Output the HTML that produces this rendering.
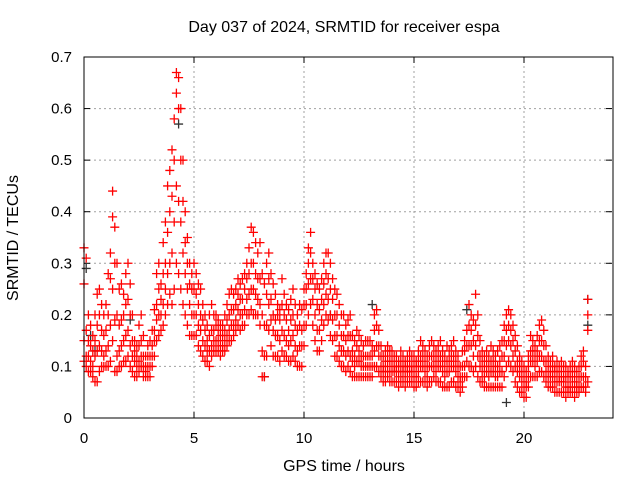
<!DOCTYPE html>
<html><head><meta charset="utf-8"><style>
body{margin:0;background:#fff}
svg{display:block;font-family:"Liberation Sans",sans-serif}
</style></head><body>
<svg id="chart" width="640" height="480">
<rect width="640" height="480" fill="#fff"/>
<text x="344" y="32" text-anchor="middle" font-size="16">Day 037 of 2024, SRMTID for receiver espa</text>
<text x="344" y="471" text-anchor="middle" font-size="16">GPS time / hours</text>
<text transform="translate(18,238) rotate(-90)" text-anchor="middle" font-size="16">SRMTID / TECUs</text>
<g id="grid"></g>
<g id="ticks"></g>
<g id="marks"></g>
<rect x="84" y="57" width="529" height="361" fill="none" stroke="#000" stroke-width="1"/>
</svg>
<script>
const xTicks=[0,5,10,15,20];
const yTicks=[0,0.1,0.2,0.3,0.4,0.5,0.6,0.7];
const yTickLabels=["0","0.1","0.2","0.3","0.4","0.5","0.6","0.7"];
const tStart=0, tStep=0.1;
const hi=[.33,.31,.2,.18,.16,.2,.24,.25,.22,.2,
.22,.28,.32,.44,.37,.3,.25,.26,.24,.28,
.3,.26,.2,.15,.14,.18,.2,.16,.12,.14,
.15,.17,.21,.28,.3,.26,.34,.38,.45,.48,
.52,.58,.67,.66,.6,.5,.4,.35,.3,.28,
.3,.28,.26,.25,.22,.2,.18,.2,.22,.2,
.2,.19,.18,.18,.2,.22,.24,.25,.24,.25,
.27,.26,.27,.28,.3,.33,.37,.36,.34,.32,
.34,.28,.26,.3,.32,.28,.26,.24,.22,.21,
.27,.24,.22,.21,.23,.25,.22,.2,.22,.21,
.25,.28,.33,.36,.3,.28,.26,.25,.27,.3,
.32,.32,.3,.27,.25,.24,.22,.2,.2,.18,
.19,.2,.16,.15,.17,.16,.15,.14,.15,.15,
.15,.14,.2,.21,.17,.14,.12,.13,.14,.13,
.13,.12,.12,.11,.13,.12,.11,.12,.13,.12,
.12,.11,.13,.15,.14,.13,.12,.14,.15,.14,
.13,.14,.15,.13,.12,.14,.13,.14,.15,.13,
.12,.1,.13,.15,.17,.22,.2,.19,.24,.2,
.15,.13,.12,.13,.12,.14,.13,.12,.13,.14,
.15,.18,.2,.21,.2,.18,.16,.14,.12,.11,
.1,.09,.12,.16,.15,.14,.16,.18,.19,.17,
.14,.12,.11,.12,.1,.11,.1,.11,.1,.1,
.09,.1,.11,.1,.09,.1,.12,.13,.1,.23];
const m2=[.26,.17,.15,.14,.13,.15,.18,.2,.17,.16,
.17,.2,.27,.39,.3,.2,.18,.19,.2,.22,
.23,.2,.15,.13,.12,.14,.15,.12,.1,.12,
.12,.14,.17,.22,.25,.23,.28,.3,.36,.4,
.43,.5,.63,.6,.5,.42,.34,.3,.26,.25,
.25,.24,.22,.2,.19,.17,.15,.16,.17,.17,
.18,.17,.16,.16,.17,.19,.2,.21,.21,.22,
.24,.23,.23,.25,.27,.28,.3,.3,.28,.27,
.27,.2,.18,.24,.27,.23,.2,.19,.2,.19,
.22,.2,.19,.17,.19,.2,.18,.17,.18,.17,
.22,.25,.3,.32,.27,.25,.22,.21,.23,.26,
.28,.27,.25,.23,.2,.2,.18,.16,.16,.15,
.16,.16,.13,.12,.14,.13,.12,.12,.12,.12,
.12,.12,.17,.18,.14,.12,.1,.11,.12,.11,
.11,.1,.1,.1,.11,.1,.1,.1,.11,.1,
.1,.1,.11,.12,.12,.11,.1,.12,.12,.12,
.11,.12,.12,.11,.1,.11,.11,.12,.12,.11,
.1,.08,.1,.13,.14,.18,.17,.15,.18,.16,
.12,.11,.1,.11,.1,.11,.11,.1,.1,.11,
.12,.15,.17,.18,.17,.15,.13,.11,.1,.09,
.08,.07,.1,.13,.13,.12,.13,.15,.15,.14,
.11,.1,.09,.1,.09,.09,.08,.09,.08,.08,
.08,.08,.09,.08,.07,.08,.1,.11,.08,.2];
const m1=[.15,.12,.12,.11,.1,.12,.13,.14,.13,.12,
.13,.14,.18,.25,.19,.12,.13,.14,.15,.16,
.17,.14,.12,.11,.1,.11,.12,.1,.09,.1,
.1,.12,.15,.19,.2,.2,.22,.25,.28,.3,
.32,.38,.45,.42,.38,.32,.28,.25,.22,.2,
.2,.2,.18,.17,.15,.14,.13,.13,.14,.15,
.15,.15,.14,.14,.15,.16,.17,.18,.18,.19,
.21,.2,.2,.21,.23,.24,.25,.25,.24,.23,
.22,.13,.12,.18,.22,.19,.17,.16,.16,.15,
.17,.16,.15,.14,.15,.16,.14,.13,.14,.14,
.18,.22,.26,.27,.23,.2,.17,.17,.19,.22,
.24,.23,.2,.19,.16,.16,.14,.13,.13,.12,
.13,.12,.11,.1,.11,.11,.1,.1,.1,.1,
.1,.1,.13,.14,.12,.1,.09,.09,.1,.09,
.09,.09,.09,.08,.09,.09,.08,.09,.09,.09,
.08,.08,.09,.1,.1,.09,.08,.1,.1,.1,
.09,.1,.1,.09,.08,.09,.09,.1,.1,.09,
.08,.07,.08,.1,.11,.14,.14,.12,.14,.12,
.1,.09,.08,.09,.08,.09,.09,.08,.08,.09,
.09,.12,.14,.15,.14,.12,.1,.09,.08,.07,
.06,.06,.08,.11,.11,.1,.11,.12,.12,.11,
.09,.08,.08,.08,.07,.07,.07,.07,.07,.06,
.06,.06,.07,.06,.06,.06,.08,.08,.06,.17];
const lo=[.11,.1,.09,.09,.08,.07,.07,.09,.1,.1,
.1,.1,.11,.15,.09,.09,.1,.1,.11,.11,
.12,.1,.09,.08,.08,.09,.1,.08,.08,.08,
.08,.1,.12,.15,.16,.17,.18,.2,.22,.24,
.22,.25,.3,.28,.25,.22,.2,.18,.16,.16,
.16,.16,.14,.13,.12,.11,.11,.1,.12,.13,
.13,.13,.12,.13,.13,.14,.15,.15,.16,.17,
.18,.17,.18,.18,.2,.2,.21,.2,.2,.2,
.18,.08,.08,.12,.17,.14,.12,.12,.12,.11,
.13,.12,.12,.11,.11,.12,.11,.1,.1,.1,
.14,.18,.2,.22,.18,.15,.13,.13,.15,.18,
.2,.19,.16,.15,.12,.12,.11,.1,.1,.09,
.1,.09,.08,.08,.08,.08,.08,.08,.08,.08,
.08,.08,.1,.1,.09,.08,.07,.07,.08,.07,
.07,.07,.07,.06,.07,.07,.06,.07,.07,.07,
.06,.06,.07,.07,.07,.07,.06,.07,.07,.08,
.07,.07,.07,.06,.06,.06,.06,.07,.07,.06,
.06,.05,.06,.08,.08,.1,.1,.09,.1,.08,
.07,.07,.06,.06,.06,.06,.06,.06,.06,.06,
.06,.08,.1,.11,.1,.09,.07,.06,.05,.05,
.04,.04,.06,.08,.08,.08,.08,.09,.09,.08,
.07,.06,.06,.06,.05,.05,.05,.05,.05,.04,
.05,.05,.05,.04,.05,.05,.06,.06,.05,.07];
const blackT=[0.1,0.3,0.5,2.1,4.3,8.2,11.2,13.1,17.4,19.2,22.9,22.9];
const blackV=[0.29,0.16,0.13,0.19,0.57,0.08,0.2,0.22,0.21,0.03,0.23,0.18];

const X0=84,X1=612,Y0=418,Y1=57;
const xMax=24,yMax=0.7;
function xs(t){return X0+t/xMax*(X1-X0);}
function ys(v){return Y0-v/yMax*(Y0-Y1);}
const NS="http://www.w3.org/2000/svg";
function mk(tag,attrs,parent){const e=document.createElementNS(NS,tag);for(const k in attrs)e.setAttribute(k,attrs[k]);parent.appendChild(e);return e;}
const grid=document.getElementById('grid'),ticks=document.getElementById('ticks'),marks=document.getElementById('marks');
xTicks.forEach(t=>{const x=xs(t);
 if(t>0){const g=mk('line',{x1:x,x2:x,y1:Y0,y2:Y1,stroke:'#a0a0a0','stroke-dasharray':'2,3'},grid);
 
 }
 mk('line',{x1:x,x2:x,y1:Y0,y2:Y0-6,stroke:'#000'},ticks);
 mk('line',{x1:x,x2:x,y1:Y1,y2:Y1+6,stroke:'#000'},ticks);
 const l=mk('text',{x:x,y:443,'text-anchor':'middle','font-size':15},ticks);l.textContent=t;
 
 
});
yTicks.forEach((v,i)=>{const y=ys(v);
 if(v>0&&v<yMax){const g=mk('line',{x1:X0,x2:X1,y1:y,y2:y,stroke:'#a0a0a0','stroke-dasharray':'2,3'},grid);
 
 }
 mk('line',{x1:X0,x2:X0+6,y1:y,y2:y,stroke:'#000'},ticks);
 mk('line',{x1:X1,x2:X1-6,y1:y,y2:y,stroke:'#000'},ticks);
 const l=mk('text',{x:72,y:y+5,'text-anchor':'end','font-size':15},ticks);l.textContent=yTickLabels[i];
 
 
});
function plus(t,v,col){const x=xs(t),y=ys(v);
 const p=mk('path',{d:`M${x-4.5},${y}h9M${x},${y-4.5}v9`,stroke:col,'stroke-width':1.3,fill:'none'},marks);
 
 }
blackT.forEach((t,i)=>plus(t,blackV[i],'#333'));
[lo,m1,m2,hi].forEach(arr=>arr.forEach((v,i)=>plus(tStart+i*tStep,v,'#ff0000')));
</script>
</body></html>
